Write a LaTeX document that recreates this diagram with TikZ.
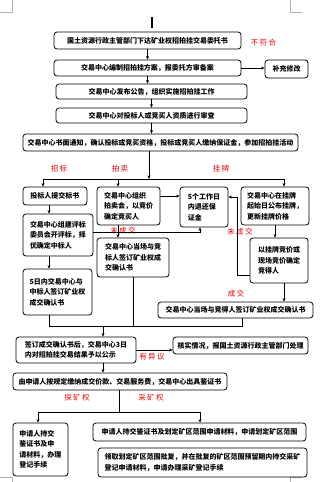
\documentclass[tikz,border=0pt]{standalone}
\usepackage{fontspec}
\setmainfont{Noto Sans CJK SC}
\newfontfamily\notefont[LetterSpace=18]{Noto Sans CJK SC}
\usetikzlibrary{arrows.meta, positioning, calc}
\colorlet{labelred}{red!90!black}
\colorlet{markgray}{gray!60}
\tikzset{
  box/.style={draw, rounded corners=3pt, line width=0.8pt, inner sep=2pt, align=left,
    font=\fontsize{7pt}{10.5pt}\selectfont\bfseries},
  arr/.style={-{Stealth[length=3.5pt, width=3pt]}, line width=0.6pt},
  link/.style={line width=0.6pt},
  note/.style={font=\notefont\fontsize{7.5pt}{9pt}\selectfont, text=labelred, inner sep=0pt},
}

\begin{document}
\begin{tikzpicture}[x=1pt, y=-1pt]
  \useasboundingbox[fill=white] (0,0) rectangle (319,482);
  % page marks and cursor
  \draw[markgray, line width=0.5pt] (12,0) -- (12,12) -- (0,12);
  \draw[markgray, line width=0.5pt] (290,0) -- (290,12) -- (302,12);
  \draw[markgray, line width=0.5pt] (0,477) -- (12,477) -- (12,482);
  \draw[markgray, line width=0.5pt] (290,482) -- (290,477) -- (302,477);
  \draw[line width=1.3pt] (152,17) -- (152,28);

  % main chain
  \node[box, minimum width=187pt, minimum height=17pt] (wts) at (147.5,40.5) {国土资源行政主管部门下达矿业权招拍挂交易委托书};
  \node[box, minimum width=187pt, minimum height=16pt] (fa) at (147.5,68) {交易中心编制招拍挂方案，报委托方审备案};
  \node[box, minimum width=43pt, minimum height=18pt] (bcxg) at (286.5,69) {补充修改};
  \node[box, minimum width=191pt, minimum height=15pt] (gg) at (151.5,91.5) {交易中心发布公告，组织实施招拍挂工作};
  \node[box, minimum width=191pt, minimum height=15pt] (sc) at (151.5,115.5) {交易中心对投标人或竞买人资质进行审查};
  \node[box, minimum width=275pt, minimum height=17pt] (tz) at (160.5,142.5) {交易中心书面通知，确认投标或竞买资格，投标或竞买人缴纳保证金，参加招拍挂活动};

  % three branches
  \node[box, minimum width=64pt, minimum height=18pt] (zb1) at (55,196) {投标人提交标书};
  \node[box, minimum width=70pt, minimum height=42pt] (zb2) at (58,235) {交易中心组建评标\\委员会开评标，择\\优确定中标人};
  \node[box, minimum width=69pt, minimum height=46pt] (zb3) at (57.5,292) {5日内交易中心与\\中标人签订矿业权\\成交确认书};
  \node[box, minimum width=63pt, minimum height=38pt] (pm1) at (128.5,206) {交易中心组织\\拍卖会，以竞价\\确定竞买人};
  \node[box, minimum width=72pt, minimum height=39pt] (pm2) at (133,257.5) {交易中心当场与竞\\标人签订矿业权成\\交确认书};
  \node[box, minimum width=48pt, minimum height=40pt] (thbz) at (204,207) {5个工作日\\内退还保\\证金};
  \node[box, minimum width=68pt, minimum height=38pt] (gp1) at (275,206) {交易中心在挂牌\\起始日公布挂牌，\\更新挂牌价格};
  \node[box, minimum width=58pt, minimum height=45pt] (gp2) at (279,260.5) {以挂牌竞价或\\现场竞价确定\\竞得人};
  \node[box, minimum width=155pt, minimum height=16pt] (gpqr) at (235.5,310) {交易中心当场与竞得人签订矿业权成交确认书};

  % result and registration
  \node[box, minimum width=120pt, minimum height=26pt] (gs) at (76,350) {签订成交确认书后，交易中心3日\\内对招拍挂交易结果予以公示};
  \node[box, minimum width=135pt, minimum height=17pt] (hs) at (240.5,345.5) {核实情况，报国土资源行政主管部门处理};
  \node[box, minimum width=214pt, minimum height=17pt] (jn) at (120,381.5) {由申请人按规定缴纳成交价款、交易服务费，交易中心出具鉴证书};
  \node[box, minimum width=55pt, minimum height=53pt] (tkq) at (40.5,449.5) {申请人持交\\鉴证书及申\\请材料，办理\\登记手续};
  \node[box, minimum width=213pt, minimum height=18pt] (ckq1) at (199.5,432) {申请人持交鉴证书及划定矿区范围申请材料，申请划定矿区范围};
  \node[box, minimum width=209pt, minimum height=29pt] (ckq2) at (202.5,462.5) {领取划定矿区范围批复，并在批复的矿区范围预留期内持交采矿\\登记申请材料，申请办理采矿登记手续};

  % red labels
  \node[note] (bfh) at (263.5,43) {不符合};
  \node[note] (lzb) at (59,169) {招标};
  \node[note] (lpm) at (120,169) {拍卖};
  \node[note] (lgp) at (221,169) {挂牌};
  \node[note] (wcj1) at (123,231) {未成交};
  \node[note] (wcj2) at (240,232) {未成交};
  \node[note] (lcj) at (236,294) {成交};
  \node[note] (yyy) at (152,357) {有异议};
  \node[note] (ltk) at (77,398) {探矿权};
  \node[note] (lck) at (151,398) {采矿权};

  % junction points
  \coordinate (s1) at (149,179);
  \coordinate (s1L) at (43,179);
  \coordinate (s1M) at (118,179);
  \coordinate (s1R) at (284,179);
  \coordinate (wc1) at (200,232);
  \coordinate (wc2) at (237,197);
  \coordinate (m1) at (103,326);
  \coordinate (m1L) at (49,326);
  \coordinate (m1R) at (242,326);
  \coordinate (s2) at (119,412);
  \coordinate (s2L) at (38,412);
  \coordinate (s2R) at (200,412);

  % connectors
  \draw[arr] (wts.south) -- (fa.north);
  \draw[arr] (fa.east) -- (fa.east -| bcxg.west);
  \draw[arr] (fa.south) -- (fa.south |- gg.north);
  \draw[arr] (gg.south) -- (gg.south |- sc.north);
  \draw[arr] (sc.south) -- (sc.south |- tz.north);
  \draw[arr] (tz.south -| s1) -- (s1);
  \draw[link] (s1L) -- (s1R);
  \draw[arr] (s1L) -- (s1L |- zb1.north);
  \draw[arr] (s1M) -- (s1M |- pm1.north);
  \draw[arr] (s1R) -- (s1R |- gp1.north);
  \draw[arr] (zb1.south -| m1L) -- (m1L |- zb2.north);
  \draw[arr] (zb2.south -| m1L) -- (m1L |- zb3.north);
  \draw[arr] (zb2.east |- wc1) -- (wc1) -- (wc1 |- thbz.south);
  \draw[arr] ([yshift=10pt]pm1.east) -- ([yshift=10pt]pm1.east -| thbz.west);
  \draw[arr] (pm1.south -| s1M) -- (s1M |- pm2.north);
  \draw[arr] (gp1.south) -- (gp1.south |- gp2.north);
  \draw[arr] ([yshift=-14.5pt]gp2.west) -| (wc2) -- (wc2 -| thbz.east);
  \draw[arr] (gp2.south -| s1R) -- (s1R |- gpqr.north);
  \draw[link] (zb3.south -| m1L) -- (m1L) -- (m1R) -- (m1R |- gpqr.south);
  \draw[link] (pm2.south) -- (pm2.south |- m1);
  \draw[arr] (m1) -- (m1 |- gs.north);
  \draw[arr] (gs.east) -- (gs.east -| hs.west);
  \draw[arr] (gs.south -| m1) -- (m1 |- jn.north);
  \draw[link] (jn.south -| s2) -- (s2);
  \draw[link] (s2L) -- (s2R);
  \draw[arr] (s2L) -- (s2L |- tkq.north);
  \draw[arr] (s2R) -- (s2R |- ckq1.north);
\end{tikzpicture}
\end{document}
